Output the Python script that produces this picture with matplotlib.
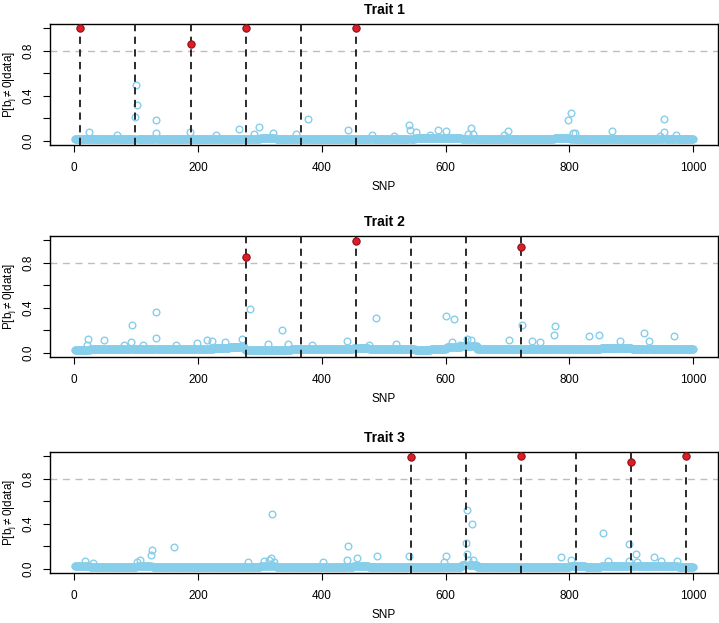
import numpy as np
import matplotlib
matplotlib.use("Agg")
import matplotlib.pyplot as plt

plt.rcParams['font.family'] = ['Liberation Sans', 'DejaVu Sans']
plt.rcParams['mathtext.fontset'] = 'custom'
plt.rcParams['mathtext.rm'] = 'Liberation Sans'
plt.rcParams['mathtext.it'] = 'Liberation Sans:italic'

# SNP index and the simulated causal SNPs (dashed lines)
snp = np.arange(1, 1001)
causal = [10, 99, 188, 277, 366, 455, 544, 633, 722, 811, 900, 989]
trait_causal = [causal[0:6], causal[3:9], causal[6:12]]
titles = ["Trait 1", "Trait 2", "Trait 3"]

# typical level of the dense band, one value per 25 SNPs
t1_base = [0.010, 0.015, 0.015, 0.013, 0.015, 0.012, 0.015, 0.018, 0.015, 0.012,
           0.015, 0.018, 0.020, 0.015, 0.015, 0.013, 0.015, 0.012, 0.015, 0.018,
           0.015, 0.015, 0.020, 0.022, 0.020, 0.015, 0.018, 0.015, 0.013, 0.015,
           0.015, 0.020, 0.018, 0.015, 0.013, 0.015, 0.015, 0.018, 0.012, 0.010]
t2_base = [0.020, 0.030, 0.030, 0.035, 0.035, 0.030, 0.035, 0.035, 0.035, 0.040,
           0.050, 0.025, 0.020, 0.025, 0.030, 0.030, 0.030, 0.035, 0.040, 0.035,
           0.035, 0.030, 0.025, 0.035, 0.045, 0.055, 0.035, 0.030, 0.030, 0.030,
           0.030, 0.035, 0.035, 0.035, 0.040, 0.040, 0.035, 0.030, 0.030, 0.030]
t3_base = [0.020, 0.015, 0.015, 0.015, 0.020, 0.018, 0.015, 0.012, 0.012, 0.012,
           0.012, 0.015, 0.025, 0.015, 0.012, 0.012, 0.012, 0.012, 0.020, 0.015,
           0.015, 0.015, 0.015, 0.015, 0.015, 0.030, 0.012, 0.012, 0.012, 0.012,
           0.012, 0.015, 0.025, 0.015, 0.025, 0.020, 0.025, 0.020, 0.020, 0.015]

# SNPs standing out of the band
t1_peak_snp = [10, 24, 69, 99, 100, 101, 132, 133, 187, 188, 229, 266, 277, 290, 298,
               321, 359, 378, 443, 455, 481, 516, 541, 542, 552, 575, 588, 601, 636,
               641, 645, 695, 701, 798, 803, 805, 809, 868, 947, 952, 953, 972]
t1_peak_pip = [1.00, 0.08, 0.045, 0.21, 0.50, 0.32, 0.18, 0.07, 0.075, 0.86, 0.05,
               0.10, 1.00, 0.055, 0.12, 0.07, 0.06, 0.19, 0.09, 1.00, 0.045, 0.04,
               0.14, 0.095, 0.075, 0.05, 0.09, 0.087, 0.06, 0.115, 0.06, 0.05, 0.083,
               0.18, 0.245, 0.07, 0.07, 0.087, 0.04, 0.19, 0.075, 0.05]
t2_peak_snp = [21, 23, 48, 80, 92, 94, 112, 132, 133, 165, 199, 215, 222, 244, 271,
               277, 284, 313, 336, 345, 384, 440, 455, 476, 488, 520, 601, 610, 613,
               623, 635, 641, 702, 722, 723, 740, 753, 775, 776, 831, 848, 882, 920,
               928, 969]
t2_peak_pip = [0.07, 0.12, 0.113, 0.07, 0.09, 0.246, 0.07, 0.36, 0.128, 0.07, 0.085,
               0.113, 0.10, 0.09, 0.12, 0.853, 0.39, 0.075, 0.20, 0.075, 0.07, 0.104,
               0.993, 0.07, 0.305, 0.075, 0.33, 0.09, 0.30, 0.07, 0.12, 0.11, 0.11,
               0.946, 0.25, 0.10, 0.09, 0.155, 0.235, 0.148, 0.157, 0.10, 0.178, 0.10,
               0.148]
t3_peak_snp = [18, 31, 101, 107, 124, 126, 162, 281, 307, 314, 318, 319, 323, 402,
               440, 442, 457, 490, 541, 544, 598, 601, 633, 634, 635, 636, 643, 644,
               722, 787, 803, 854, 863, 896, 897, 900, 907, 909, 936, 948, 973, 989]
t3_peak_pip = [0.07, 0.05, 0.06, 0.08, 0.12, 0.167, 0.19, 0.06, 0.07, 0.08, 0.095,
               0.49, 0.06, 0.06, 0.08, 0.205, 0.09, 0.115, 0.11, 0.997, 0.06, 0.115,
               0.23, 0.128, 0.52, 0.08, 0.40, 0.08, 1.00, 0.10, 0.08, 0.315, 0.07,
               0.215, 0.07, 0.953, 0.134, 0.06, 0.107, 0.07, 0.065, 1.00]

bases = [t1_base, t2_base, t3_base]
peaks = [(t1_peak_snp, t1_peak_pip), (t2_peak_snp, t2_peak_pip), (t3_peak_snp, t3_peak_pip)]

SKY = "#87CEEB"
RED = "#DC1E26"
DARKRED = "#9A1016"

W, H = 719, 623
fig = plt.figure(figsize=(W / 100, H / 100), dpi=100)

# axes boxes in pixels: (top, bottom)
boxes = [(24, 145), (236, 357), (452, 573)]
left, right = 50, 718

for k in range(3):
    top, bot = boxes[k]
    ax = fig.add_axes([left / W, 1 - bot / H, (right - left) / W, (bot - top) / H])

    pip = np.repeat(bases[k], 25)
    psnp, ppip = peaks[k]
    pip[np.array(psnp) - 1] = ppip

    ax.plot(snp, pip, 'o', mfc='none', mec=SKY, ms=4.8, mew=1.0, zorder=2)
    ax.axhline(0.8, color='#BEBEBE', ls=(0, (5, 4)), lw=1.0, zorder=1)
    for c in trait_causal[k]:
        ax.axvline(c, color='#1a1a1a', ls=(0, (4, 3)), lw=1.3, zorder=3)
    hit = pip > 0.8
    ax.plot(snp[hit], pip[hit], 'o', mfc=RED, mec=DARKRED, ms=5.2, mew=0.8, zorder=4)

    ax.set_xlim(-38.96, 1039.96)
    ax.set_ylim(-0.04, 1.04)
    ax.set_xticks([0, 200, 400, 600, 800, 1000])
    ax.set_yticks([0, 0.2, 0.4, 0.6, 0.8, 1.0])
    ax.set_yticklabels(['0.0', '', '0.4', '', '0.8', ''], rotation=90, va='center')
    ax.tick_params(direction='out', length=5, width=0.8, labelsize=8.5, pad=7)
    ax.tick_params(axis='y', pad=6)
    for s in ax.spines.values():
        s.set_linewidth(1.0)
    ax.set_title(titles[k], fontsize=10, fontweight='bold', pad=7)
    ax.set_xlabel('SNP', fontsize=8.5, labelpad=5)
    # y label placed by hand so it sits near the left edge like the original
    fig.text(9 / W, 1 - (top + bot) / 2 / H, r'P[b$_{\mathrm{j}}\neq$0|data]',
             rotation=90, ha='center', va='center', fontsize=8.5)

fig.savefig("out.png", dpi=100)
